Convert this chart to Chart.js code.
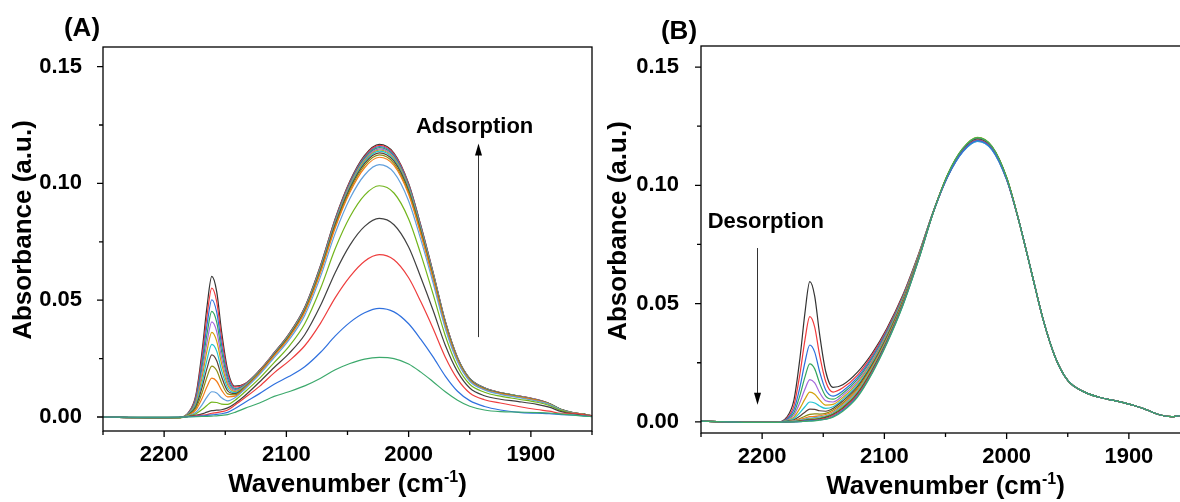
<!DOCTYPE html>
<html>
<head>
<meta charset="utf-8">
<script src="https://cdn.jsdelivr.net/npm/chart.js@4.4.1/dist/chart.umd.min.js"></script>
<style>
html, body { margin: 0; padding: 0; background: #fff; }
body { width: 1180px; height: 502px; overflow: hidden; position: relative; }
.panel { position: absolute; top: 0; width: 600px; height: 502px; }
#boxA { left: 0; }
#boxB { left: 600px; }
</style>
</head>
<body>
<div class="panel" id="boxA"><canvas id="chartA"></canvas></div>
<div class="panel" id="boxB"><canvas id="chartB"></canvas></div>
<script>
// wavenumber grid (cm-1) shared by every spectrum
wavenumbers = [2250, 2210, 2188, 2180, 2174, 2169, 2165, 2161, 2157, 2153, 2148, 2142, 2134, 2122, 2110, 2098, 2085, 2072, 2060, 2048,
               2036, 2024, 2012, 2000, 1990, 1980, 1970, 1960, 1950, 1938, 1925, 1910, 1895, 1885, 1875, 1865, 1857, 1850]

xMajor = [2200, 2100, 2000, 1900]
xMinor = [2250, 2150, 2050, 1950, 1850]
yMajor = [0, 0.05, 0.10, 0.15]
yMinor = [0.025, 0.075, 0.125]

lineColors = ['#333333', '#f23a3c', '#2b6fdc', '#33a55c', '#a467dc', '#d3a10a', '#22c2d0', '#5b3f38',
              '#8c8c12', '#f37c18', '#62a0dd', '#72b51c', '#404040', '#ee3d3d', '#2f70de', '#3ca96c']

// (A) adsorption, top curve first
a01 = [0.0000, -0.0004, -0.0003, 0.0020, 0.0095, 0.0280, 0.0469, 0.0602, 0.0537, 0.0366, 0.0201, 0.0132, 0.0142, 0.0200, 0.0275, 0.0355, 0.0470, 0.0650, 0.0850, 0.1010, 0.1120, 0.1167, 0.1130, 0.1000, 0.0820, 0.0620, 0.0410, 0.0255, 0.0165, 0.0125, 0.0105, 0.0090, 0.0074, 0.0058, 0.0032, 0.0018, 0.0012, 0.0005]
a02 = [0.0000, -0.0004, -0.0003, 0.0019, 0.0088, 0.0257, 0.0430, 0.0552, 0.0494, 0.0338, 0.0188, 0.0128, 0.0141, 0.0198, 0.0274, 0.0354, 0.0468, 0.0648, 0.0847, 0.1007, 0.1116, 0.1163, 0.1126, 0.0997, 0.0817, 0.0618, 0.0409, 0.0254, 0.0164, 0.0125, 0.0105, 0.0090, 0.0074, 0.0058, 0.0032, 0.0018, 0.0012, 0.0005]
a03 = [0.0000, -0.0004, -0.0003, 0.0017, 0.0080, 0.0234, 0.0391, 0.0502, 0.0449, 0.0309, 0.0175, 0.0122, 0.0138, 0.0197, 0.0273, 0.0352, 0.0466, 0.0645, 0.0843, 0.1002, 0.1111, 0.1158, 0.1121, 0.0992, 0.0814, 0.0615, 0.0407, 0.0253, 0.0164, 0.0124, 0.0104, 0.0089, 0.0073, 0.0058, 0.0032, 0.0018, 0.0012, 0.0005]
a04 = [0.0000, -0.0004, -0.0003, 0.0016, 0.0073, 0.0211, 0.0352, 0.0452, 0.0406, 0.0281, 0.0161, 0.0118, 0.0137, 0.0196, 0.0272, 0.0351, 0.0464, 0.0642, 0.0840, 0.0998, 0.1107, 0.1153, 0.1116, 0.0988, 0.0810, 0.0613, 0.0405, 0.0252, 0.0163, 0.0124, 0.0104, 0.0089, 0.0073, 0.0057, 0.0032, 0.0018, 0.0012, 0.0005]
a05 = [0.0000, -0.0004, -0.0003, 0.0015, 0.0066, 0.0190, 0.0317, 0.0407, 0.0366, 0.0253, 0.0149, 0.0114, 0.0135, 0.0195, 0.0271, 0.0349, 0.0462, 0.0639, 0.0836, 0.0994, 0.1102, 0.1148, 0.1112, 0.0984, 0.0807, 0.0610, 0.0403, 0.0251, 0.0162, 0.0123, 0.0103, 0.0089, 0.0073, 0.0057, 0.0031, 0.0018, 0.0012, 0.0005]
a06 = [0.0000, -0.0004, -0.0003, 0.0013, 0.0059, 0.0169, 0.0282, 0.0362, 0.0325, 0.0228, 0.0137, 0.0109, 0.0132, 0.0194, 0.0269, 0.0348, 0.0460, 0.0637, 0.0832, 0.0989, 0.1097, 0.1143, 0.1107, 0.0979, 0.0803, 0.0607, 0.0402, 0.0250, 0.0162, 0.0122, 0.0103, 0.0088, 0.0072, 0.0057, 0.0031, 0.0018, 0.0012, 0.0005]
a07 = [0.0000, -0.0004, -0.0003, 0.0012, 0.0052, 0.0146, 0.0243, 0.0311, 0.0282, 0.0200, 0.0124, 0.0104, 0.0131, 0.0192, 0.0268, 0.0346, 0.0458, 0.0634, 0.0829, 0.0985, 0.1092, 0.1138, 0.1102, 0.0975, 0.0800, 0.0605, 0.0400, 0.0249, 0.0161, 0.0122, 0.0102, 0.0088, 0.0072, 0.0057, 0.0031, 0.0018, 0.0012, 0.0005]
a08 = [0.0000, -0.0004, -0.0003, 0.0010, 0.0045, 0.0126, 0.0207, 0.0266, 0.0241, 0.0173, 0.0112, 0.0100, 0.0128, 0.0191, 0.0267, 0.0344, 0.0456, 0.0630, 0.0824, 0.0979, 0.1086, 0.1131, 0.1095, 0.0969, 0.0795, 0.0601, 0.0397, 0.0247, 0.0160, 0.0121, 0.0102, 0.0087, 0.0072, 0.0056, 0.0031, 0.0017, 0.0012, 0.0005]
a09 = [0.0000, -0.0004, -0.0003, 0.0009, 0.0038, 0.0103, 0.0170, 0.0218, 0.0199, 0.0146, 0.0099, 0.0095, 0.0126, 0.0189, 0.0264, 0.0341, 0.0452, 0.0625, 0.0817, 0.0971, 0.1077, 0.1122, 0.1086, 0.0961, 0.0788, 0.0596, 0.0394, 0.0245, 0.0159, 0.0120, 0.0101, 0.0087, 0.0071, 0.0056, 0.0031, 0.0017, 0.0012, 0.0005]
a10 = [0.0000, -0.0004, -0.0003, 0.0007, 0.0030, 0.0079, 0.0129, 0.0166, 0.0153, 0.0115, 0.0086, 0.0089, 0.0123, 0.0187, 0.0262, 0.0338, 0.0448, 0.0619, 0.0810, 0.0962, 0.1067, 0.1112, 0.1077, 0.0953, 0.0781, 0.0591, 0.0391, 0.0243, 0.0157, 0.0119, 0.0100, 0.0086, 0.0071, 0.0055, 0.0030, 0.0017, 0.0011, 0.0005]
a11 = [0.0000, -0.0004, -0.0003, 0.0006, 0.0020, 0.0052, 0.0085, 0.0108, 0.0103, 0.0082, 0.0069, 0.0082, 0.0119, 0.0181, 0.0254, 0.0329, 0.0435, 0.0602, 0.0787, 0.0935, 0.1036, 0.1080, 0.1046, 0.0925, 0.0759, 0.0574, 0.0379, 0.0236, 0.0153, 0.0116, 0.0097, 0.0083, 0.0068, 0.0054, 0.0030, 0.0017, 0.0011, 0.0005]
a12 = [0.0000, -0.0003, -0.0003, 0.0004, 0.0014, 0.0032, 0.0049, 0.0064, 0.0062, 0.0055, 0.0054, 0.0072, 0.0107, 0.0165, 0.0233, 0.0301, 0.0399, 0.0551, 0.0721, 0.0857, 0.0950, 0.0990, 0.0959, 0.0848, 0.0696, 0.0526, 0.0348, 0.0216, 0.0140, 0.0106, 0.0089, 0.0076, 0.0063, 0.0049, 0.0027, 0.0015, 0.0010, 0.0004]
a13 = [0.0000, -0.0003, -0.0002, 0.0002, 0.0008, 0.0013, 0.0021, 0.0027, 0.0029, 0.0031, 0.0039, 0.0058, 0.0091, 0.0150, 0.0212, 0.0271, 0.0352, 0.0478, 0.0619, 0.0736, 0.0816, 0.0850, 0.0823, 0.0728, 0.0597, 0.0457, 0.0307, 0.0194, 0.0124, 0.0091, 0.0076, 0.0066, 0.0054, 0.0042, 0.0023, 0.0013, 0.0009, 0.0004]
a14 = [0.0000, -0.0002, -0.0002, 0.0002, 0.0005, 0.0008, 0.0010, 0.0016, 0.0019, 0.0023, 0.0030, 0.0051, 0.0082, 0.0131, 0.0189, 0.0239, 0.0305, 0.0402, 0.0511, 0.0601, 0.0667, 0.0695, 0.0673, 0.0596, 0.0493, 0.0379, 0.0256, 0.0162, 0.0103, 0.0074, 0.0060, 0.0045, 0.0032, 0.0025, 0.0016, 0.0016, 0.0010, 0.0004]
a15 = [0.0000, -0.0002, -0.0001, 0.0001, 0.0003, 0.0005, 0.0007, 0.0009, 0.0011, 0.0014, 0.0020, 0.0036, 0.0062, 0.0100, 0.0140, 0.0173, 0.0215, 0.0277, 0.0347, 0.0405, 0.0446, 0.0465, 0.0450, 0.0399, 0.0332, 0.0257, 0.0175, 0.0110, 0.0070, 0.0045, 0.0030, 0.0020, 0.0016, 0.0014, 0.0010, 0.0008, 0.0005, 0.0002]
a16 = [0.0000, -0.0001, -0.0001, 0.0000, 0.0001, 0.0002, 0.0003, 0.0004, 0.0005, 0.0007, 0.0010, 0.0020, 0.0037, 0.0060, 0.0088, 0.0108, 0.0133, 0.0166, 0.0202, 0.0229, 0.0248, 0.0255, 0.0250, 0.0227, 0.0192, 0.0151, 0.0108, 0.0072, 0.0046, 0.0030, 0.0023, 0.0021, 0.0019, 0.0017, 0.0012, 0.0008, 0.0004, 0.0001]

// (B) desorption, first scan first; all scans share the low-wavenumber tail
desTail = [0.0850, 0.0640, 0.0430, 0.0270, 0.0175, 0.0130, 0.0105, 0.0088, 0.0068, 0.0050, 0.0030, 0.0022, 0.0027, 0.0026]
b01 = [0.0003, -0.0002, -0.0002, 0.0019, 0.0092, 0.0272, 0.0460, 0.0593, 0.0532, 0.0371, 0.0213, 0.0146, 0.0157, 0.0210, 0.0290, 0.0395, 0.0535, 0.0710, 0.0890, 0.1045, 0.1150, 0.1197, 0.1160, 0.1030, ...desTail]
b02 = [0.0003, -0.0002, -0.0002, 0.0015, 0.0069, 0.0205, 0.0346, 0.0445, 0.0401, 0.0283, 0.0171, 0.0126, 0.0144, 0.0198, 0.0282, 0.0389, 0.0531, 0.0708, 0.0889, 0.1041, 0.1144, 0.1190, 0.1154, 0.1026, ...desTail]
b03 = [0.0003, -0.0002, -0.0002, 0.0011, 0.0051, 0.0149, 0.0251, 0.0325, 0.0295, 0.0213, 0.0135, 0.0109, 0.0131, 0.0188, 0.0274, 0.0383, 0.0526, 0.0705, 0.0889, 0.1038, 0.1140, 0.1186, 0.1150, 0.1023, ...desTail]
b04 = [0.0003, -0.0002, -0.0002, 0.0008, 0.0038, 0.0113, 0.0189, 0.0245, 0.0224, 0.0164, 0.0109, 0.0096, 0.0121, 0.0180, 0.0267, 0.0377, 0.0523, 0.0703, 0.0889, 0.1047, 0.1153, 0.1200, 0.1163, 0.1032, ...desTail]
b05 = [0.0003, -0.0002, -0.0002, 0.0006, 0.0029, 0.0083, 0.0138, 0.0179, 0.0165, 0.0124, 0.0089, 0.0084, 0.0112, 0.0171, 0.0260, 0.0372, 0.0519, 0.0701, 0.0888, 0.1044, 0.1148, 0.1195, 0.1158, 0.1029, ...desTail]
b06 = [0.0003, -0.0002, -0.0002, 0.0004, 0.0020, 0.0058, 0.0096, 0.0126, 0.0117, 0.0093, 0.0071, 0.0074, 0.0103, 0.0164, 0.0254, 0.0368, 0.0516, 0.0700, 0.0888, 0.1046, 0.1152, 0.1199, 0.1162, 0.1031, ...desTail]
b07 = [0.0003, -0.0002, -0.0002, 0.0003, 0.0014, 0.0039, 0.0064, 0.0084, 0.0080, 0.0067, 0.0057, 0.0064, 0.0095, 0.0156, 0.0248, 0.0363, 0.0513, 0.0698, 0.0888, 0.1039, 0.1141, 0.1187, 0.1151, 0.1024, ...desTail]
b08 = [0.0003, -0.0002, -0.0002, 0.0002, 0.0009, 0.0025, 0.0041, 0.0054, 0.0053, 0.0047, 0.0045, 0.0057, 0.0088, 0.0149, 0.0242, 0.0359, 0.0510, 0.0696, 0.0887, 0.1044, 0.1149, 0.1196, 0.1159, 0.1029, ...desTail]
b09 = [0.0003, -0.0002, -0.0002, 0.0001, 0.0005, 0.0014, 0.0024, 0.0032, 0.0034, 0.0033, 0.0036, 0.0050, 0.0080, 0.0142, 0.0236, 0.0354, 0.0507, 0.0694, 0.0887, 0.1048, 0.1155, 0.1202, 0.1165, 0.1033, ...desTail]
b10 = [0.0003, -0.0002, -0.0002, 0.0001, 0.0004, 0.0011, 0.0016, 0.0022, 0.0023, 0.0026, 0.0031, 0.0044, 0.0074, 0.0136, 0.0231, 0.0350, 0.0504, 0.0693, 0.0887, 0.1046, 0.1151, 0.1198, 0.1161, 0.1031, ...desTail]
b11 = [0.0003, -0.0002, -0.0002, 0.0000, 0.0003, 0.0008, 0.0012, 0.0016, 0.0018, 0.0021, 0.0026, 0.0039, 0.0069, 0.0130, 0.0226, 0.0346, 0.0501, 0.0691, 0.0886, 0.1042, 0.1146, 0.1192, 0.1156, 0.1027, ...desTail]
b12 = [0.0003, -0.0002, -0.0002, 0.0000, 0.0001, 0.0005, 0.0009, 0.0012, 0.0013, 0.0016, 0.0022, 0.0034, 0.0063, 0.0124, 0.0221, 0.0342, 0.0499, 0.0690, 0.0886, 0.1049, 0.1155, 0.1203, 0.1165, 0.1034, ...desTail]
b13 = [0.0003, -0.0002, -0.0002, 0.0000, 0.0001, 0.0004, 0.0006, 0.0009, 0.0010, 0.0013, 0.0019, 0.0031, 0.0058, 0.0119, 0.0217, 0.0339, 0.0496, 0.0689, 0.0886, 0.1045, 0.1150, 0.1197, 0.1160, 0.1030, ...desTail]
b14 = [0.0003, -0.0002, -0.0002, 0.0000, 0.0001, 0.0002, 0.0004, 0.0007, 0.0008, 0.0011, 0.0015, 0.0027, 0.0054, 0.0114, 0.0213, 0.0336, 0.0494, 0.0687, 0.0885, 0.1041, 0.1145, 0.1191, 0.1155, 0.1026, ...desTail]
b15 = [0.0003, -0.0002, -0.0002, 0.0000, 0.0000, 0.0001, 0.0004, 0.0005, 0.0006, 0.0009, 0.0012, 0.0023, 0.0049, 0.0109, 0.0208, 0.0333, 0.0492, 0.0686, 0.0885, 0.1040, 0.1143, 0.1189, 0.1153, 0.1025, ...desTail]
b16 = [0.0003, -0.0002, -0.0002, 0.0000, 0.0000, 0.0001, 0.0002, 0.0003, 0.0004, 0.0007, 0.0011, 0.0020, 0.0045, 0.0105, 0.0205, 0.0330, 0.0490, 0.0685, 0.0885, 0.1047, 0.1154, 0.1201, 0.1164, 0.1032, ...desTail]

adsCurves = [a01, a02, a03, a04, a05, a06, a07, a08, a09, a10, a11, a12, a13, a14, a15, a16]
desCurves = [b01, b02, b03, b04, b05, b06, b07, b08, b09, b10, b11, b12, b13, b14, b15, b16]

FONT = '"Liberation Sans", Arial, sans-serif'
Chart.defaults.font.family = FONT
Chart.defaults.font.weight = 'bold'
Chart.defaults.color = '#000'

function make_datasets(curves) {
    return curves.map((c, i) => ({
        data: wavenumbers.map((w, k) => ({x: w, y: c[k]})),
        borderColor: lineColors[i],
        borderWidth: 1.2,
        pointRadius: 0,
        cubicInterpolationMode: 'monotone',
        order: curves.length - i   // later scans drawn on top
    }))
}

// box, tick marks, titles and the arrow note
var framePlugin = {
    id: 'frame',
    afterDraw(chart, args, o) {
        var ctx = chart.ctx, a = chart.chartArea, x = chart.scales.x, y = chart.scales.y
        ctx.save()
        ctx.strokeStyle = '#000'
        ctx.lineWidth = 1.3
        ctx.strokeRect(a.left, a.top, a.right - a.left, a.bottom - a.top)
        ctx.beginPath()
        yMajor.forEach(v => { var p = y.getPixelForValue(v); ctx.moveTo(a.left, p); ctx.lineTo(a.left - 6, p) })
        yMinor.forEach(v => { var p = y.getPixelForValue(v); ctx.moveTo(a.left, p); ctx.lineTo(a.left - 4, p) })
        xMajor.forEach(v => { var p = x.getPixelForValue(v); ctx.moveTo(p, a.bottom); ctx.lineTo(p, a.bottom + 6) })
        xMinor.forEach(v => { var p = x.getPixelForValue(v); ctx.moveTo(p, a.bottom); ctx.lineTo(p, a.bottom + 4) })
        ctx.stroke()

        ctx.fillStyle = '#000'
        ctx.textBaseline = 'middle'
        // panel letter
        ctx.font = 'bold 26px ' + FONT
        ctx.textAlign = 'center'
        ctx.fillText(o.panel, o.panelX, o.panelY)

        // y title
        ctx.save()
        ctx.translate(o.yTitleX, o.yTitleY)
        ctx.rotate(-Math.PI / 2)
        ctx.fillText('Absorbance (a.u.)', 0, 0)
        ctx.restore()

        // x title with superscript
        var t1 = 'Wavenumber (cm', sup = '-1', t2 = ')'
        ctx.font = 'bold 26px ' + FONT
        var w1 = ctx.measureText(t1).width, w3 = ctx.measureText(t2).width
        ctx.font = 'bold 16px ' + FONT
        var w2 = ctx.measureText(sup).width
        var sx = (a.left + a.right) / 2 - (w1 + w2 + w3) / 2
        ctx.textAlign = 'left'
        ctx.textBaseline = 'alphabetic'
        ctx.font = 'bold 26px ' + FONT
        ctx.fillText(t1, sx, o.xTitleY)
        ctx.fillText(t2, sx + w1 + w2, o.xTitleY)
        ctx.font = 'bold 16px ' + FONT
        ctx.fillText(sup, sx + w1, o.xTitleY - 10)

        // note + arrow, placed in data units
        ctx.font = 'bold 22px ' + FONT
        ctx.textAlign = 'center'
        ctx.textBaseline = 'middle'
        ctx.fillText(o.note, x.getPixelForValue(o.noteAt[0]), y.getPixelForValue(o.noteAt[1]))
        var ax = Math.round(x.getPixelForValue(o.arrow[0])) + 0.5
        var y0 = y.getPixelForValue(o.arrow[1]), y1 = y.getPixelForValue(o.arrow[2])
        var dir = y1 < y0 ? 1 : -1
        ctx.strokeStyle = '#333'
        ctx.lineWidth = 1
        ctx.beginPath()
        ctx.moveTo(ax, y0)
        ctx.lineTo(ax, y1 + dir * 10)
        ctx.stroke()
        ctx.beginPath()
        ctx.moveTo(ax, y1)
        ctx.lineTo(ax - 3.5, y1 + dir * 12)
        ctx.lineTo(ax + 3.5, y1 + dir * 12)
        ctx.closePath()
        ctx.fill()
        ctx.restore()
    }
}

function spectra_chart(canvas, curves, opts) {
    return new Chart(canvas, {
        type: 'line',
        data: { datasets: make_datasets(curves) },
        options: {
            responsive: true,
            maintainAspectRatio: false,
            animation: false,
            layout: { padding: { top: opts.top, right: opts.right, left: 0, bottom: 0 } },
            plugins: { legend: { display: false }, tooltip: { enabled: false }, frame: opts.frame },
            scales: {
                x: {
                    type: 'linear', reverse: true, min: 1850, max: 2250,
                    grid: { display: false }, border: { display: false },
                    afterBuildTicks: s => { s.ticks = xMajor.map(v => ({value: v})) },
                    afterFit: s => { s.height = opts.xHeight },
                    ticks: { font: { size: 22, weight: 'bold' }, padding: opts.xPad, maxRotation: 0, callback: v => String(v) }
                },
                y: {
                    min: opts.yMin, max: opts.yMax,
                    grid: { display: false }, border: { display: false },
                    afterBuildTicks: s => { s.ticks = yMajor.map(v => ({value: v})) },
                    afterFit: s => { s.width = opts.yWidth },
                    ticks: { font: { size: 22, weight: 'bold' }, padding: opts.yPad, callback: v => v.toFixed(2) }
                }
            }
        },
        plugins: [framePlugin]
    })
}

spectra_chart(document.getElementById('chartA'), adsCurves, {
    top: 47, right: 8, xHeight: 71, yWidth: 103, xPad: 3, yPad: 13, yMin: -0.0060, yMax: 0.1584,
    frame: { panel: '(A)', panelX: 82, panelY: 29, yTitleX: 24, yTitleY: 230, xTitleY: 492,
             note: 'Adsorption', noteAt: [1946, 0.1243], arrow: [1943, 0.0342, 0.1171] }
})

spectra_chart(document.getElementById('chartB'), desCurves, {
    top: 46, right: 10, xHeight: 69, yWidth: 101, xPad: 3, yPad: 14, yMin: -0.0047, yMax: 0.1589,
    frame: { panel: '(B)', panelX: 79, panelY: 32, yTitleX: 19, yTitleY: 231, xTitleY: 494,
             note: 'Desorption', noteAt: [2197, 0.0845], arrow: [2204, 0.0735, 0.0072] }
})
</script>
</body>
</html>
